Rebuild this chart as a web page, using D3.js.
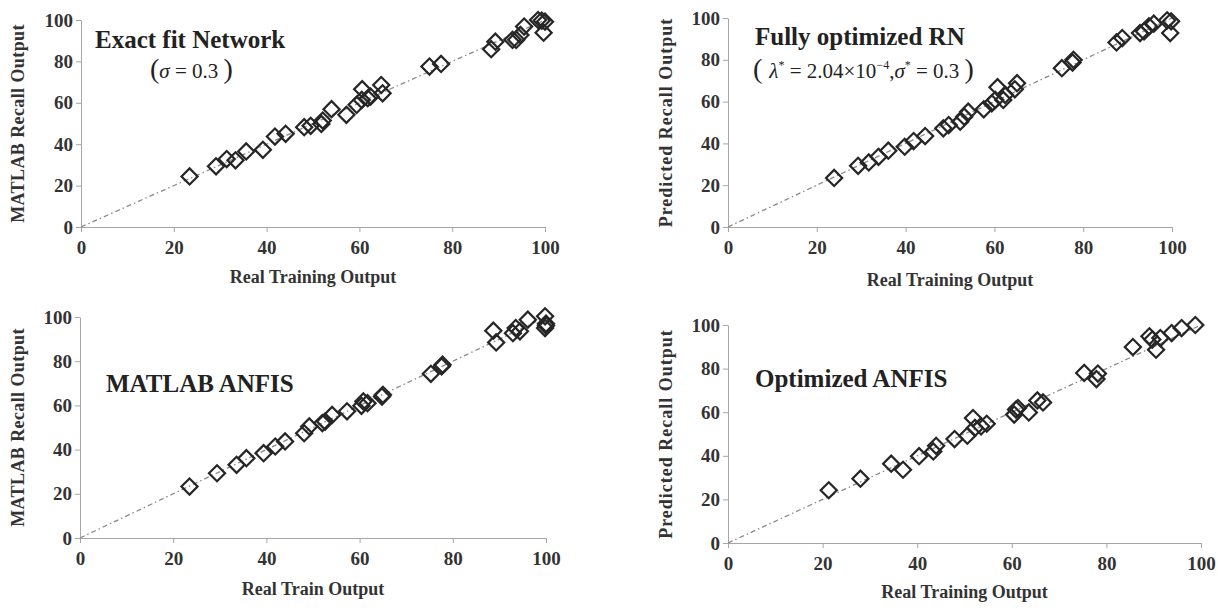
<!DOCTYPE html>
<html>
<head>
<meta charset="utf-8">
<script src="https://cdn.jsdelivr.net/npm/d3@7"></script>
<style>
  body { margin: 0; background: #fff; }
  svg { display: block; }
  svg text { font-family: "Liberation Serif", "Times New Roman", Times, serif; }
  .axis path, .axis line { stroke: #a6a6a6; }
  .axis-label { font-weight: bold; font-size: 18px; fill: #333; }
  .title { font-weight: bold; font-size: 25px; fill: #222; }
  .formula { font-size: 21px; fill: #222; }
</style>
</head>
<body>
<div id="chart"></div>
<script>
// DATA: values
const tickValues = [0, 20, 40, 60, 80, 100];

// Exact fit network (sigma = 0.3)
const exactX = [23.4, 29.1, 31.4, 33.3, 35.6, 39.2, 41.8, 44.1, 48.1, 49.5, 51.8, 52.1, 54.0, 57.2, 59.4, 60.5, 60.6, 61.8, 62.4, 64.7, 65.0, 75.1, 77.6, 88.4, 89.3, 93.0, 93.8, 94.7, 95.5, 98.5, 99.3, 100, 99.7];
const exactY = [24.4, 29.3, 32.8, 32.2, 36.5, 37.3, 43.7, 45.0, 48.2, 48.9, 49.8, 51.4, 56.9, 54.2, 59.0, 61.4, 66.6, 62.2, 63.0, 68.6, 64.6, 77.5, 78.8, 85.9, 89.5, 90.4, 90.4, 92.8, 96.8, 100, 99.7, 99.2, 93.9];

// Fully optimized RN
const rnX = [23.9, 29.3, 31.7, 33.9, 36.1, 39.8, 41.8, 44.4, 48.5, 49.7, 52.3, 53.2, 54.1, 57.6, 59.4, 60.2, 60.7, 62.0, 62.4, 64.6, 65.1, 75.2, 77.6, 77.8, 87.5, 88.8, 92.8, 93.7, 94.8, 95.9, 98.9, 99.8, 99.6];
const rnY = [23.5, 29.3, 30.9, 33.6, 36.5, 38.4, 41.1, 43.5, 47.2, 48.8, 50.4, 52.8, 55.2, 56.3, 59.2, 60.8, 66.9, 60.8, 63.2, 65.9, 68.8, 76.0, 78.7, 80.0, 88.3, 90.4, 92.8, 93.6, 96.0, 97.3, 98.9, 98.4, 92.8];

// MATLAB ANFIS
const matlabX = [23.5, 29.4, 33.6, 35.7, 39.4, 41.9, 44.0, 48.1, 49.2, 52.0, 52.6, 54.1, 57.3, 60.4, 60.8, 61.7, 64.8, 65.0, 75.3, 77.6, 77.8, 88.7, 89.3, 92.9, 93.5, 94.4, 96.1, 99.8, 100, 100, 99.8];
const matlabY = [23.3, 29.3, 33.1, 36.1, 38.4, 41.4, 43.7, 47.4, 50.5, 52.0, 52.7, 55.7, 57.3, 59.8, 61.8, 61.0, 64.0, 64.8, 74.3, 77.6, 78.4, 93.8, 88.5, 92.7, 95.0, 93.5, 98.8, 100.3, 97.0, 96.1, 95.0];

// Optimized ANFIS
const optX = [21.3, 28.0, 34.5, 37.0, 40.4, 43.4, 44.0, 47.9, 50.6, 51.8, 52.2, 53.5, 54.7, 60.5, 60.9, 61.3, 63.6, 65.4, 66.6, 75.3, 77.9, 78.2, 85.6, 89.1, 89.7, 90.5, 91.4, 93.8, 95.9, 98.8];
const optY = [24.2, 29.5, 36.4, 33.6, 39.8, 42.0, 44.6, 47.7, 49.2, 57.3, 52.8, 53.5, 54.7, 58.9, 61.2, 61.9, 59.9, 65.4, 64.5, 78.0, 75.2, 77.7, 89.9, 94.8, 93.3, 88.7, 94.0, 96.3, 98.6, 100];

const titles = ["Exact fit Network", "Fully optimized RN", "MATLAB ANFIS", "Optimized ANFIS"];
const yLabels = ["MATLAB  Recall Output", "Predicted Recall Output", "MATLAB  Recall Output", "Predicted Recall Output"];
const xLabels = ["Real Training Output", "Real Training Output", "Real Train Output", "Real Training Output"];

// LAYOUT of each panel (pixel frame of the axes)
const layout = [
  { left: 81,  right: 545,  top: 20,  bottom: 227, ylx: 18,  xly: 283, tx: 95,  ty: 48, ls: 0.4 },
  { left: 728, right: 1172, top: 18,  bottom: 227, ylx: 666, xly: 286, tx: 755, ty: 45, ls: 1.0 },
  { left: 80,  right: 546,  top: 317, bottom: 538, ylx: 18,  xly: 595, tx: 106, ty: 392, ls: 0.4 },
  { left: 728, right: 1201, top: 325, bottom: 543, ylx: 666, xly: 598, tx: 755, ty: 387, ls: 1.0 }
];

const panels = [
  { xs: exactX, ys: exactY },
  { xs: rnX, ys: rnY },
  { xs: matlabX, ys: matlabY },
  { xs: optX, ys: optY }
].map((p, i) => ({ ...layout[i], points: p.xs.map((v, j) => [v, p.ys[j]]),
                   title: titles[i], yLabel: yLabels[i], xLabel: xLabels[i] }));

const svg = d3.select("#chart").append("svg")
    .attr("width", 1218)
    .attr("height", 608);

const diamond = d3.symbol().type(d3.symbolSquare).size(130);

// tick label styling, set inline so it wins over d3's defaults
function styleTicks(sel) {
    sel.selectAll(".tick text")
        .style("font-family", "'Liberation Serif', 'Times New Roman', serif")
        .style("font-weight", "bold")
        .style("font-size", "19px")
        .style("fill", "#333");
}

panels.forEach((p, i) => {
    const x = d3.scaleLinear().domain([0, 100]).range([p.left, p.right]);
    const y = d3.scaleLinear().domain([0, 100]).range([p.bottom, p.top]);
    const g = svg.append("g");

    // axes
    g.append("g")
        .attr("class", "axis")
        .attr("transform", `translate(0,${p.bottom})`)
        .call(d3.axisBottom(x).tickValues(tickValues).tickSize(5).tickSizeOuter(0).tickPadding(9))
        .call(styleTicks);
    g.append("g")
        .attr("class", "axis")
        .attr("transform", `translate(${p.left},0)`)
        .call(d3.axisLeft(y).tickValues(tickValues).tickSize(5).tickSizeOuter(0).tickPadding(3))
        .call(styleTicks);

    // 1:1 reference line
    g.append("line")
        .attr("x1", x(0)).attr("y1", y(0))
        .attr("x2", x(100)).attr("y2", y(100))
        .attr("stroke", "#8a8a8a")
        .attr("stroke-width", 1.3)
        .attr("stroke-dasharray", "5,3,1.5,3");

    // diamonds
    g.selectAll("path.pt")
        .data(p.points)
        .enter()
        .append("path")
        .attr("class", "pt")
        .attr("d", diamond)
        .attr("transform", d => `translate(${x(d[0])},${y(d[1])}) rotate(45)`)
        .attr("fill", "none")
        .attr("stroke", "#262626")
        .attr("stroke-width", 2.2);

    // axis labels
    g.append("text")
        .attr("class", "axis-label")
        .attr("text-anchor", "middle")
        .attr("x", (p.left + p.right) / 2)
        .attr("y", p.xly)
        .text(p.xLabel);
    g.append("text")
        .attr("class", "axis-label")
        .attr("text-anchor", "middle")
        .attr("font-size", 17)
        .attr("letter-spacing", p.ls)
        .attr("transform", `translate(${p.ylx},${(p.top + p.bottom) / 2}) rotate(-90)`)
        .attr("dy", "0.35em")
        .text(p.yLabel);

    // panel title
    g.append("text")
        .attr("class", "title")
        .attr("x", p.tx)
        .attr("y", p.ty)
        .text(p.title);
});

// parameter annotations
const f1 = svg.append("text").attr("class", "formula").attr("x", 150).attr("y", 78);
f1.append("tspan").attr("font-size", 28).text("(");
f1.append("tspan").attr("font-style", "italic").text("σ");
f1.append("tspan").text(" = 0.3 ");
f1.append("tspan").attr("font-size", 28).text(")");

const f2 = svg.append("text").attr("class", "formula").attr("x", 753).attr("y", 78);
f2.append("tspan").attr("font-size", 28).text("( ");
f2.append("tspan").attr("font-style", "italic").text("λ");
f2.append("tspan").attr("font-size", 12).attr("dy", -9).text("*");
f2.append("tspan").attr("dy", 9).text(" = 2.04×10");
f2.append("tspan").attr("font-size", 12).attr("dy", -9).text("−4");
f2.append("tspan").attr("dy", 9).text(",");
f2.append("tspan").attr("font-style", "italic").text("σ");
f2.append("tspan").attr("font-size", 12).attr("dy", -9).text("*");
f2.append("tspan").attr("dy", 9).text(" = 0.3 ");
f2.append("tspan").attr("font-size", 28).text(")");
</script>
</body>
</html>
